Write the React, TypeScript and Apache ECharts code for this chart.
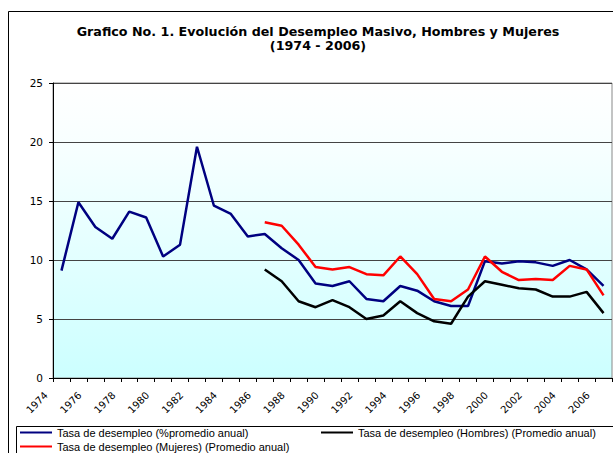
import React, { useEffect, useRef } from "react";
import * as echarts from "echarts";

const years = [
  "1974", "1975", "1976", "1977", "1978", "1979", "1980", "1981", "1982", "1983", "1984",
  "1985", "1986", "1987", "1988", "1989", "1990", "1991", "1992", "1993", "1994", "1995",
  "1996", "1997", "1998", "1999", "2000", "2001", "2002", "2003", "2004", "2005", "2006",
];

const totalRate = [
  9.1, 14.9, 12.8, 11.8, 14.1, 13.6, 10.3, 11.3, 19.6, 14.6, 13.9,
  12.0, 12.2, 11.0, 10.0, 8.0, 7.8, 8.2, 6.7, 6.5, 7.8, 7.4,
  6.5, 6.1, 6.1, 9.9, 9.7, 9.9, 9.8, 9.5, 10.0, 9.2, 7.8,
];

const menRate = [
  null, null, null, null, null, null, null, null, null, null, null,
  null, 9.2, 8.2, 6.5, 6.0, 6.6, 6.0, 5.0, 5.3, 6.5, 5.5,
  4.8, 4.6, 6.9, 8.2, 7.9, 7.6, 7.5, 6.9, 6.9, 7.3, 5.5,
];

const womenRate = [
  null, null, null, null, null, null, null, null, null, null, null,
  null, 13.2, 12.9, 11.3, 9.4, 9.2, 9.4, 8.8, 8.7, 10.3, 8.8,
  6.7, 6.5, 7.5, 10.3, 9.0, 8.3, 8.4, 8.3, 9.5, 9.2, 7.0,
];

const nameTotal = "Tasa de desempleo (%promedio anual)";
const nameMen = "Tasa de desempleo (Hombres) (Promedio anual)";
const nameWomen = "Tasa de desempleo (Mujeres) (Promedio anual)";

const FONT = "Liberation Sans, Arial, sans-serif";
const WIDE = "DejaVu Sans, sans-serif";

export default function App() {
  const ref = useRef<HTMLDivElement>(null);

  useEffect(() => {
    if (!ref.current) return;
    const chart = echarts.init(ref.current, null, { renderer: "svg" });
    const legendCommon = {
      padding: 0,
      icon: "rect",
      itemWidth: 32,
      itemHeight: 2,
      itemGap: 0,
      textStyle: { fontFamily: FONT, fontSize: 11, color: "#000" },
    };
    chart.setOption({
      animation: false,
      backgroundColor: "#ffffff",
      title: {
        text: "Grafico No. 1. Evolución del Desempleo Masivo, Hombres y Mujeres\n(1974 - 2006)",
        left: 318,
        top: 24,
        textAlign: "center",
        padding: 0,
        textStyle: {
          fontFamily: WIDE,
          fontSize: 12.7,
          fontWeight: "bold",
          color: "#000",
          lineHeight: 14,
        },
      },
      graphic: [
        {
          type: "rect",
          silent: true,
          z: -10,
          shape: { x: 8.5, y: 11.5, width: 700, height: 600 },
          style: { fill: "none", stroke: "#000", lineWidth: 1 },
        },
        {
          type: "rect",
          silent: true,
          z: -10,
          shape: { x: 16.5, y: 426.5, width: 700, height: 100 },
          style: { fill: "none", stroke: "#000", lineWidth: 1 },
        },
      ],
      legend: [
        { ...legendCommon, data: [nameTotal], left: 20, top: 427 },
        { ...legendCommon, data: [nameMen], left: 321, top: 427 },
        { ...legendCommon, data: [nameWomen], left: 20, top: 441 },
      ],
      grid: {
        left: 53,
        top: 83,
        right: 1,
        bottom: 75,
        show: true,
        borderColor: "#888",
        borderWidth: 1,
        backgroundColor: {
          type: "linear",
          x: 0,
          y: 0,
          x2: 0,
          y2: 1,
          colorStops: [
            { offset: 0, color: "#ffffff" },
            { offset: 0.2, color: "#f8ffff" },
            { offset: 1, color: "#ccffff" },
          ],
        },
      },
      xAxis: {
        type: "category",
        data: years,
        boundaryGap: true,
        axisLine: { show: true, lineStyle: { color: "#000", width: 1 } },
        axisTick: { show: true, interval: 0, length: 4, lineStyle: { color: "#000" } },
        axisLabel: {
          interval: 1,
          rotate: 45,
          margin: 0,
          padding: [0, 22, 0, 0],
          fontFamily: WIDE,
          fontSize: 10,
          color: "#000",
        },
        splitLine: { show: false },
      },
      yAxis: {
        type: "value",
        min: 0,
        max: 25,
        interval: 5,
        axisLine: { show: true, lineStyle: { color: "#000", width: 1 } },
        axisTick: { show: true, length: 4, lineStyle: { color: "#000" } },
        axisLabel: { margin: 10, fontFamily: WIDE, fontSize: 10.5, color: "#000" },
        splitLine: { show: true, lineStyle: { color: "#444", width: 1 } },
      },
      series: [
        {
          name: nameTotal,
          type: "line",
          data: totalRate,
          showSymbol: false,
          symbol: "none",
          lineStyle: { color: "#000080", width: 2.5 },
          itemStyle: { color: "#000080" },
          z: 3,
        },
        {
          name: nameMen,
          type: "line",
          data: menRate,
          showSymbol: false,
          symbol: "none",
          lineStyle: { color: "#000000", width: 2.5 },
          itemStyle: { color: "#000000" },
          z: 4,
        },
        {
          name: nameWomen,
          type: "line",
          data: womenRate,
          showSymbol: false,
          symbol: "none",
          lineStyle: { color: "#ff0000", width: 2.5 },
          itemStyle: { color: "#ff0000" },
          z: 5,
        },
      ],
    });
    return () => chart.dispose();
  }, []);

  return (
    <div
      ref={ref}
      style={{ position: "absolute", left: 0, top: 0, width: 613, height: 453 }}
    />
  );
}
